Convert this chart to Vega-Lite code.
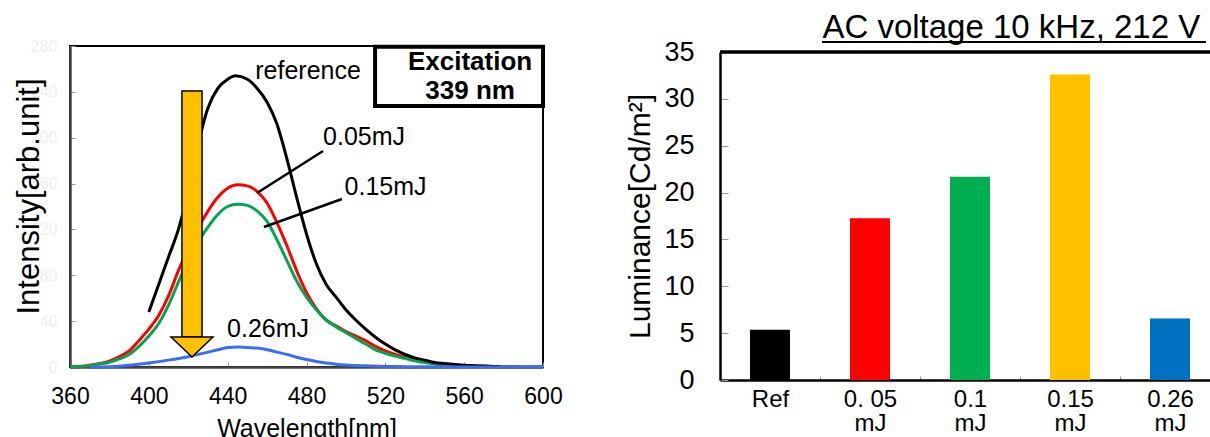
{
  "$schema": "https://vega.github.io/schema/vega-lite/v6.json",
  "padding": {"left": 11, "top": 12, "right": 0, "bottom": 0},
  "background": "white",
  "config": {"font": "Liberation Sans", "axis": {"grid": false}},
  "spacing": 177,
  "bounds": "flush",
  "resolve": {"scale": {"color": "independent"}},
  "datasets": {
    "spectra": [
      {"wl": 360, "intensity": 0, "sample": "0.05mJ"},
      {"wl": 365, "intensity": 0.5, "sample": "0.05mJ"},
      {"wl": 370, "intensity": 1.5, "sample": "0.05mJ"},
      {"wl": 375, "intensity": 3, "sample": "0.05mJ"},
      {"wl": 380, "intensity": 5, "sample": "0.05mJ"},
      {"wl": 385, "intensity": 9, "sample": "0.05mJ"},
      {"wl": 390, "intensity": 14, "sample": "0.05mJ"},
      {"wl": 395, "intensity": 23, "sample": "0.05mJ"},
      {"wl": 400, "intensity": 33, "sample": "0.05mJ"},
      {"wl": 405, "intensity": 45, "sample": "0.05mJ"},
      {"wl": 410, "intensity": 62, "sample": "0.05mJ"},
      {"wl": 415, "intensity": 84, "sample": "0.05mJ"},
      {"wl": 420, "intensity": 103, "sample": "0.05mJ"},
      {"wl": 425, "intensity": 121, "sample": "0.05mJ"},
      {"wl": 430, "intensity": 136, "sample": "0.05mJ"},
      {"wl": 435, "intensity": 148, "sample": "0.05mJ"},
      {"wl": 440, "intensity": 156, "sample": "0.05mJ"},
      {"wl": 445, "intensity": 159, "sample": "0.05mJ"},
      {"wl": 450, "intensity": 158, "sample": "0.05mJ"},
      {"wl": 455, "intensity": 153, "sample": "0.05mJ"},
      {"wl": 460, "intensity": 143, "sample": "0.05mJ"},
      {"wl": 465, "intensity": 126, "sample": "0.05mJ"},
      {"wl": 470, "intensity": 106, "sample": "0.05mJ"},
      {"wl": 475, "intensity": 84, "sample": "0.05mJ"},
      {"wl": 478, "intensity": 72, "sample": "0.05mJ"},
      {"wl": 480, "intensity": 65, "sample": "0.05mJ"},
      {"wl": 485, "intensity": 51, "sample": "0.05mJ"},
      {"wl": 490, "intensity": 41, "sample": "0.05mJ"},
      {"wl": 495, "intensity": 36, "sample": "0.05mJ"},
      {"wl": 500, "intensity": 31, "sample": "0.05mJ"},
      {"wl": 505, "intensity": 27, "sample": "0.05mJ"},
      {"wl": 510, "intensity": 23, "sample": "0.05mJ"},
      {"wl": 515, "intensity": 18, "sample": "0.05mJ"},
      {"wl": 520, "intensity": 14, "sample": "0.05mJ"},
      {"wl": 525, "intensity": 11, "sample": "0.05mJ"},
      {"wl": 530, "intensity": 8.5, "sample": "0.05mJ"},
      {"wl": 535, "intensity": 6.5, "sample": "0.05mJ"},
      {"wl": 540, "intensity": 5, "sample": "0.05mJ"},
      {"wl": 545, "intensity": 3.5, "sample": "0.05mJ"},
      {"wl": 550, "intensity": 2.5, "sample": "0.05mJ"},
      {"wl": 560, "intensity": 1.2, "sample": "0.05mJ"},
      {"wl": 570, "intensity": 0.6, "sample": "0.05mJ"},
      {"wl": 580, "intensity": 0.3, "sample": "0.05mJ"},
      {"wl": 590, "intensity": 0.1, "sample": "0.05mJ"},
      {"wl": 600, "intensity": 0, "sample": "0.05mJ"},
      {"wl": 360, "intensity": 0, "sample": "0.15mJ"},
      {"wl": 365, "intensity": 0.4, "sample": "0.15mJ"},
      {"wl": 370, "intensity": 1.2, "sample": "0.15mJ"},
      {"wl": 375, "intensity": 2.5, "sample": "0.15mJ"},
      {"wl": 380, "intensity": 4, "sample": "0.15mJ"},
      {"wl": 385, "intensity": 7, "sample": "0.15mJ"},
      {"wl": 390, "intensity": 11, "sample": "0.15mJ"},
      {"wl": 395, "intensity": 18, "sample": "0.15mJ"},
      {"wl": 400, "intensity": 27, "sample": "0.15mJ"},
      {"wl": 405, "intensity": 38, "sample": "0.15mJ"},
      {"wl": 410, "intensity": 54, "sample": "0.15mJ"},
      {"wl": 415, "intensity": 74, "sample": "0.15mJ"},
      {"wl": 420, "intensity": 93, "sample": "0.15mJ"},
      {"wl": 425, "intensity": 109, "sample": "0.15mJ"},
      {"wl": 430, "intensity": 122, "sample": "0.15mJ"},
      {"wl": 435, "intensity": 133, "sample": "0.15mJ"},
      {"wl": 440, "intensity": 140, "sample": "0.15mJ"},
      {"wl": 445, "intensity": 142, "sample": "0.15mJ"},
      {"wl": 450, "intensity": 141, "sample": "0.15mJ"},
      {"wl": 455, "intensity": 136, "sample": "0.15mJ"},
      {"wl": 460, "intensity": 127, "sample": "0.15mJ"},
      {"wl": 465, "intensity": 111, "sample": "0.15mJ"},
      {"wl": 470, "intensity": 93, "sample": "0.15mJ"},
      {"wl": 475, "intensity": 75, "sample": "0.15mJ"},
      {"wl": 480, "intensity": 61, "sample": "0.15mJ"},
      {"wl": 485, "intensity": 50, "sample": "0.15mJ"},
      {"wl": 490, "intensity": 41, "sample": "0.15mJ"},
      {"wl": 495, "intensity": 35, "sample": "0.15mJ"},
      {"wl": 500, "intensity": 30, "sample": "0.15mJ"},
      {"wl": 505, "intensity": 25, "sample": "0.15mJ"},
      {"wl": 510, "intensity": 20, "sample": "0.15mJ"},
      {"wl": 515, "intensity": 15, "sample": "0.15mJ"},
      {"wl": 520, "intensity": 12, "sample": "0.15mJ"},
      {"wl": 525, "intensity": 9.5, "sample": "0.15mJ"},
      {"wl": 530, "intensity": 7.5, "sample": "0.15mJ"},
      {"wl": 535, "intensity": 5.5, "sample": "0.15mJ"},
      {"wl": 540, "intensity": 3.8, "sample": "0.15mJ"},
      {"wl": 545, "intensity": 2.6, "sample": "0.15mJ"},
      {"wl": 550, "intensity": 1.8, "sample": "0.15mJ"},
      {"wl": 560, "intensity": 0.9, "sample": "0.15mJ"},
      {"wl": 570, "intensity": 0.4, "sample": "0.15mJ"},
      {"wl": 580, "intensity": 0.2, "sample": "0.15mJ"},
      {"wl": 590, "intensity": 0.1, "sample": "0.15mJ"},
      {"wl": 600, "intensity": 0, "sample": "0.15mJ"},
      {"wl": 400, "intensity": 48, "sample": "reference"},
      {"wl": 405, "intensity": 72, "sample": "reference"},
      {"wl": 410, "intensity": 96, "sample": "reference"},
      {"wl": 415, "intensity": 120, "sample": "reference"},
      {"wl": 420, "intensity": 153, "sample": "reference"},
      {"wl": 425, "intensity": 194, "sample": "reference"},
      {"wl": 430, "intensity": 226, "sample": "reference"},
      {"wl": 435, "intensity": 243, "sample": "reference"},
      {"wl": 440, "intensity": 251, "sample": "reference"},
      {"wl": 444, "intensity": 254, "sample": "reference"},
      {"wl": 450, "intensity": 251, "sample": "reference"},
      {"wl": 455, "intensity": 243, "sample": "reference"},
      {"wl": 460, "intensity": 231, "sample": "reference"},
      {"wl": 465, "intensity": 212, "sample": "reference"},
      {"wl": 470, "intensity": 182, "sample": "reference"},
      {"wl": 475, "intensity": 148, "sample": "reference"},
      {"wl": 480, "intensity": 116, "sample": "reference"},
      {"wl": 485, "intensity": 90, "sample": "reference"},
      {"wl": 490, "intensity": 72, "sample": "reference"},
      {"wl": 495, "intensity": 61, "sample": "reference"},
      {"wl": 500, "intensity": 50, "sample": "reference"},
      {"wl": 505, "intensity": 41, "sample": "reference"},
      {"wl": 510, "intensity": 33, "sample": "reference"},
      {"wl": 515, "intensity": 26, "sample": "reference"},
      {"wl": 520, "intensity": 20, "sample": "reference"},
      {"wl": 525, "intensity": 15, "sample": "reference"},
      {"wl": 530, "intensity": 11, "sample": "reference"},
      {"wl": 535, "intensity": 8, "sample": "reference"},
      {"wl": 540, "intensity": 6, "sample": "reference"},
      {"wl": 545, "intensity": 4, "sample": "reference"},
      {"wl": 550, "intensity": 3, "sample": "reference"},
      {"wl": 560, "intensity": 1.5, "sample": "reference"},
      {"wl": 570, "intensity": 0.8, "sample": "reference"},
      {"wl": 578, "intensity": 0.4, "sample": "reference"},
      {"wl": 370, "intensity": 0, "sample": "0.26mJ"},
      {"wl": 380, "intensity": 0.3, "sample": "0.26mJ"},
      {"wl": 390, "intensity": 1.5, "sample": "0.26mJ"},
      {"wl": 400, "intensity": 3.5, "sample": "0.26mJ"},
      {"wl": 410, "intensity": 6, "sample": "0.26mJ"},
      {"wl": 420, "intensity": 9, "sample": "0.26mJ"},
      {"wl": 430, "intensity": 13, "sample": "0.26mJ"},
      {"wl": 435, "intensity": 15, "sample": "0.26mJ"},
      {"wl": 440, "intensity": 17, "sample": "0.26mJ"},
      {"wl": 445, "intensity": 17.5, "sample": "0.26mJ"},
      {"wl": 450, "intensity": 17, "sample": "0.26mJ"},
      {"wl": 455, "intensity": 16.5, "sample": "0.26mJ"},
      {"wl": 460, "intensity": 15, "sample": "0.26mJ"},
      {"wl": 465, "intensity": 13, "sample": "0.26mJ"},
      {"wl": 470, "intensity": 11, "sample": "0.26mJ"},
      {"wl": 475, "intensity": 8.5, "sample": "0.26mJ"},
      {"wl": 480, "intensity": 6.5, "sample": "0.26mJ"},
      {"wl": 485, "intensity": 4.8, "sample": "0.26mJ"},
      {"wl": 490, "intensity": 3.5, "sample": "0.26mJ"},
      {"wl": 495, "intensity": 2.5, "sample": "0.26mJ"},
      {"wl": 500, "intensity": 1.8, "sample": "0.26mJ"},
      {"wl": 510, "intensity": 1, "sample": "0.26mJ"},
      {"wl": 520, "intensity": 0.5, "sample": "0.26mJ"},
      {"wl": 530, "intensity": 0.3, "sample": "0.26mJ"},
      {"wl": 540, "intensity": 0.2, "sample": "0.26mJ"},
      {"wl": 560, "intensity": 0.1, "sample": "0.26mJ"},
      {"wl": 600, "intensity": 0, "sample": "0.26mJ"}
    ],
    "labels": [
      {"wl": 480.8, "intensity": 258, "text": "reference"},
      {"wl": 509.2, "intensity": 200.6, "text": "0.05mJ"},
      {"wl": 520.1, "intensity": 157, "text": "0.15mJ"},
      {"wl": 460.5, "intensity": 33.1, "text": "0.26mJ"}
    ],
    "leaders": [
      {"wl": 454.9, "intensity": 151.8, "wl2": 488.4, "intensity2": 188.4},
      {"wl": 458.4, "intensity": 122.1, "wl2": 498.0, "intensity2": 146.5}
    ],
    "excitation": [
      {"wl": 514.8, "intensity": 227.7, "wl2": 600, "intensity2": 279.3}
    ],
    "excitationText": [
      {"wl": 563, "intensity": 266, "text": "Excitation"},
      {"wl": 563, "intensity": 240.8, "text": "339 nm"}
    ],
    "arrowShaft": [
      {"wl": 416.8, "intensity": 26.2, "wl2": 427.0, "intensity2": 240.8}
    ],
    "arrowHead": [
      {"wl": 421.9, "intensity": 17.4}
    ],
    "luminance": [
      {"sample": "Ref", "luminance": 5.35},
      {"sample": "0. 05 mJ", "luminance": 17.25},
      {"sample": "0.1 mJ", "luminance": 21.7},
      {"sample": "0.15 mJ", "luminance": 32.6},
      {"sample": "0.26 mJ", "luminance": 6.55}
    ]
  },
  "hconcat": [
    {
      "width": 473,
      "height": 321,
      "view": {"stroke": "#000000", "strokeWidth": 2},
      "layer": [
        {
          "data": {"name": "spectra"},
          "mark": {"type": "line", "strokeWidth": 3, "interpolate": "monotone"},
          "encoding": {
            "x": {
              "field": "wl", "type": "quantitative",
              "scale": {"domain": [360, 600], "nice": false},
              "axis": {
                "values": [360,370,380,390,400,410,420,430,440,450,460,470,480,490,500,510,520,530,540,550,560,570,580,590,600],
                "labelExpr": "datum.value % 40 == 0 ? datum.label : ''",
                "labelFlush": false, "labelOverlap": false,
                "labelFontSize": 23, "labelColor": "#000", "labelPadding": 23,
                "tickSize": -5, "tickColor": "#999", "tickWidth": 1,
                "domainColor": "#444", "domainWidth": 2.5,
                "title": "Wavelength[nm]", "titleFontSize": 25, "titleFontWeight": "normal", "titleColor": "#000", "titlePadding": 8
              }
            },
            "y": {
              "field": "intensity", "type": "quantitative",
              "scale": {"domain": [0, 280], "nice": false},
              "axis": {
                "values": [0,20,40,60,80,100,120,140,160,180,200,220,240,260,280],
                "labelFlush": false,
                "labelFontSize": 16, "labelColor": "#eeeeee", "labelPadding": 18,
                "tickSize": -5, "tickColor": "#999",
                "domainColor": "#444", "domainWidth": 2.5,
                "title": "Intensity[arb.unit]", "titleFontSize": 31, "titleFontWeight": "normal", "titleColor": "#000",
                "titleX": -25, "titleY": 150, "titleAlign": "center", "titleBaseline": "bottom"
              }
            },
            "color": {
              "field": "sample", "type": "nominal",
              "scale": {"domain": ["0.05mJ", "0.15mJ", "reference", "0.26mJ"], "range": ["#ff0000", "#00a650", "#000000", "#3b6cf6"]},
              "legend": null
            }
          }
        },
        {
          "data": {"name": "leaders"},
          "mark": {"type": "rule", "strokeWidth": 2.5, "color": "#000"},
          "encoding": {
            "x": {"field": "wl", "type": "quantitative"},
            "y": {"field": "intensity", "type": "quantitative"},
            "x2": {"field": "wl2"},
            "y2": {"field": "intensity2"}
          }
        },
        {
          "data": {"name": "labels"},
          "mark": {"type": "text", "fontSize": 25, "align": "center", "baseline": "middle", "color": "#000"},
          "encoding": {
            "x": {"field": "wl", "type": "quantitative"},
            "y": {"field": "intensity", "type": "quantitative"},
            "text": {"field": "text"}
          }
        },
        {
          "data": {"name": "excitation"},
          "mark": {"type": "rect", "fill": "#ffffff", "stroke": "#000", "strokeWidth": 4},
          "encoding": {
            "x": {"field": "wl", "type": "quantitative"},
            "y": {"field": "intensity", "type": "quantitative"},
            "x2": {"field": "wl2"},
            "y2": {"field": "intensity2"}
          }
        },
        {
          "data": {"name": "excitationText"},
          "mark": {"type": "text", "fontSize": 26, "fontWeight": "bold", "align": "center", "baseline": "middle", "color": "#000"},
          "encoding": {
            "x": {"field": "wl", "type": "quantitative"},
            "y": {"field": "intensity", "type": "quantitative"},
            "text": {"field": "text"}
          }
        },
        {
          "data": {"name": "arrowShaft"},
          "mark": {"type": "rect", "fill": "#ffc000", "stroke": "#000", "strokeWidth": 1.5},
          "encoding": {
            "x": {"field": "wl", "type": "quantitative"},
            "y": {"field": "intensity", "type": "quantitative"},
            "x2": {"field": "wl2"},
            "y2": {"field": "intensity2"}
          }
        },
        {
          "data": {"name": "arrowHead"},
          "mark": {"type": "point", "shape": "M-1,-0.476L1,-0.476L0,0.476Z", "size": 1764, "filled": true, "fill": "#ffc000", "stroke": "#000", "strokeWidth": 1.5, "opacity": 1},
          "encoding": {
            "x": {"field": "wl", "type": "quantitative"},
            "y": {"field": "intensity", "type": "quantitative"}
          }
        }
      ]
    },
    {
      "width": 500,
      "height": 334,
      "view": {"stroke": null},
      "title": {"text": "AC voltage 10 kHz, 212 V", "anchor": "end", "fontSize": 33, "fontWeight": "normal", "color": "#000", "offset": -7, "dx": -21},
      "data": {"name": "luminance"},
      "layer": [
        {
          "mark": {"type": "bar", "width": {"band": 0.4}},
          "encoding": {
            "x": {
              "field": "sample", "type": "nominal", "sort": null,
              "scale": {"paddingInner": 0, "paddingOuter": 0},
              "axis": {
                "labelAngle": 0,
                "labelExpr": "datum.label == 'Ref' ? 'Ref' : (indexof(datum.label + '', ' mJ') >= 0 ? [replace(datum.label, ' mJ', ''), 'mJ'] : '')",
                "labelFontSize": 24, "labelColor": "#000", "labelLineHeight": 24, "labelPadding": 11,
                "tickBand": "extent", "tickSize": -4, "tickColor": "#999",
                "domainColor": "#000", "domainWidth": 2.5,
                "title": null
              }
            },
            "y": {
              "field": "luminance", "type": "quantitative",
              "scale": {"domain": [0, 35], "range": [334, 6], "nice": false},
              "axis": {
                "values": [0, 5, 10, 15, 20, 25, 30, 35],
                "labelFlush": false,
                "labelFontSize": 27, "labelColor": "#000", "labelPadding": 34,
                "tickSize": -8, "tickColor": "#999",
                "domainColor": "#000", "domainWidth": 2.5,
                "title": "Luminance[Cd/m²]", "titleFontSize": 30, "titleFontWeight": "normal", "titleColor": "#000", "titlePadding": 8
              }
            },
            "color": {
              "field": "sample", "type": "nominal",
              "scale": {"domain": ["Ref", "0. 05 mJ", "0.1 mJ", "0.15 mJ", "0.26 mJ"], "range": ["#000000", "#ff0000", "#00b050", "#ffc000", "#0070c0"]},
              "legend": null
            }
          }
        },
        {
          "mark": {"type": "rule", "color": "#000", "strokeWidth": 2.5},
          "encoding": {"y": {"datum": 35, "type": "quantitative"}}
        },
        {
          "mark": {"type": "rule", "color": "#000", "strokeWidth": 2},
          "encoding": {
            "x": {"datum": "0. 05 mJ", "type": "nominal", "bandPosition": 0.02},
            "x2": {"datum": "0.26 mJ", "bandPosition": 0.86},
            "y": {"datum": 36.07, "type": "quantitative"}
          }
        }
      ]
    }
  ]
}
